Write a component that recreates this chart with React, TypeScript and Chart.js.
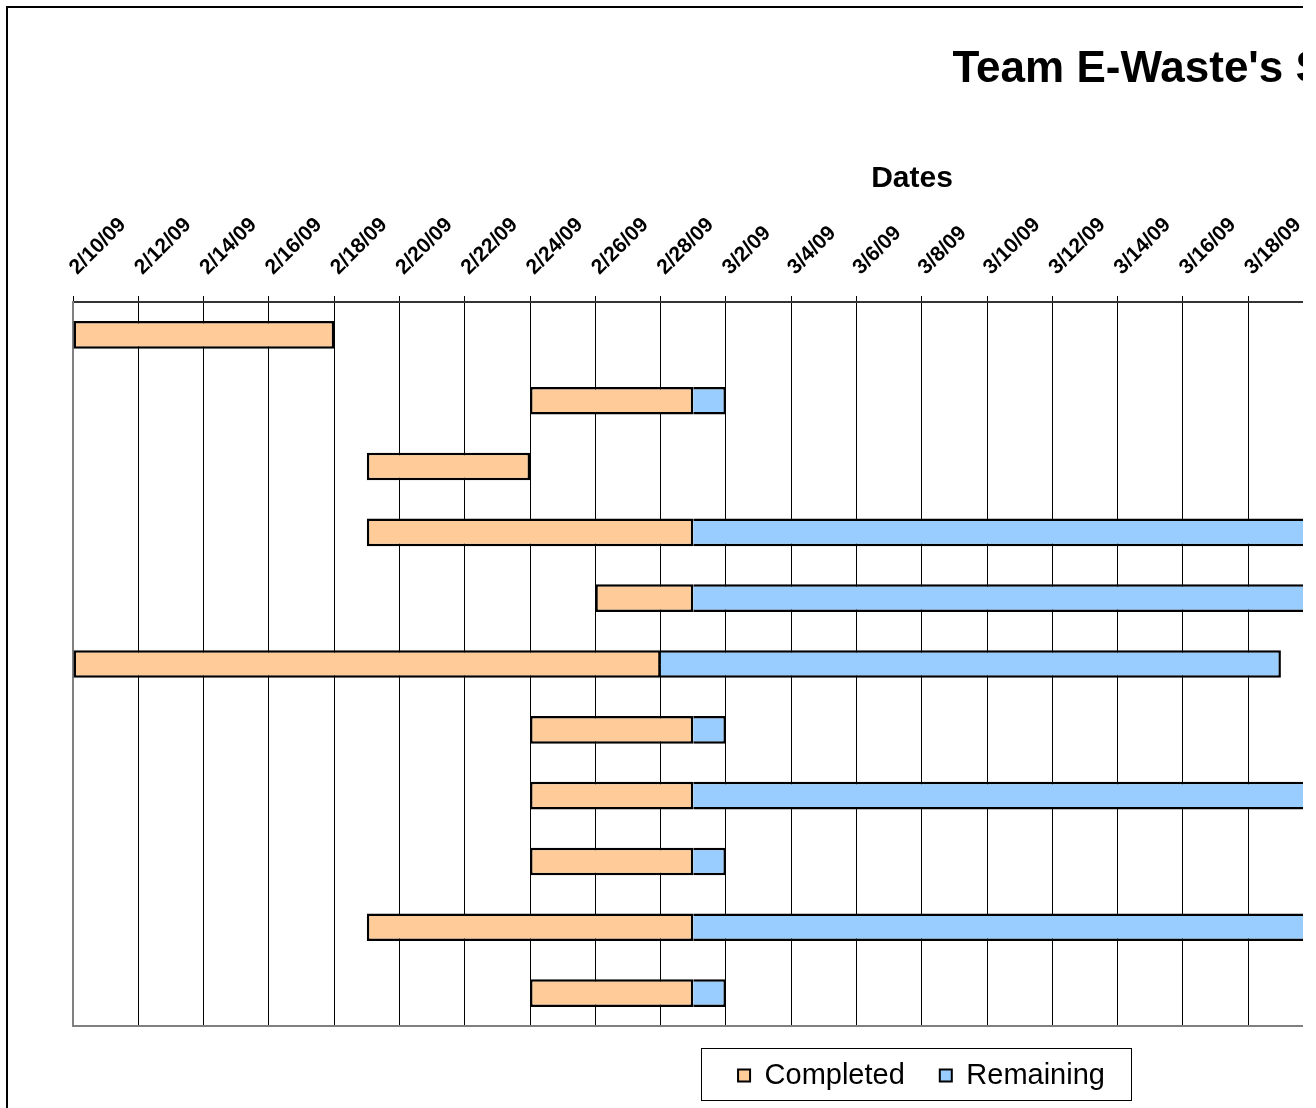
import React, { useEffect, useRef } from 'react';
import { Chart, registerables } from 'chart.js';

Chart.register(...registerables);

const FONT = "'Liberation Sans', Arial, sans-serif";

const chartTitle = "Team E-Waste's Schedule";
const axisTitle = 'Dates';
const seriesNames = ['Completed', 'Remaining'];
const seriesColors = ['#FFCC99', '#99CCFF'];

const tasks = ['Task 1', 'Task 2', 'Task 3', 'Task 4', 'Task 5', 'Task 6', 'Task 7', 'Task 8', 'Task 9', 'Task 10', 'Task 11'];
const startDates = ['2/10/09', '2/24/09', '2/19/09', '2/19/09', '2/26/09', '2/10/09', '2/24/09', '2/24/09', '2/24/09', '2/19/09', '2/24/09'];
const completedThrough = ['2/18/09', '3/1/09', '2/24/09', '3/1/09', '3/1/09', '2/28/09', '3/1/09', '3/1/09', '3/1/09', '3/1/09', '3/1/09'];
const finishDates = ['2/18/09', '3/2/09', '2/24/09', '3/27/09', '3/27/09', '3/19/09', '3/2/09', '3/27/09', '3/2/09', '3/27/09', '3/2/09'];

const axisStartDate = '2/10/09';
const axisSpanDays = 51.4;
const tickStepDays = 2;

function toUTC(s: string) {
  const [m, d, y] = s.split('/').map(Number);
  return Date.UTC(2000 + y, m - 1, d);
}
const baseUTC = toUTC(axisStartDate);
const dayIndex = (s: string) => (toUTC(s) - baseUTC) / 86400000;
const fmtDay = (v: number) => {
  const d = new Date(baseUTC + v * 86400000);
  return `${d.getUTCMonth() + 1}/${d.getUTCDate()}/${String(d.getUTCFullYear()).slice(2)}`;
};

const completedData = tasks.map((_, i) => [dayIndex(startDates[i]), dayIndex(completedThrough[i])]);
const remainingData = tasks.map((_, i) =>
  dayIndex(finishDates[i]) > dayIndex(completedThrough[i]) ? [dayIndex(completedThrough[i]), dayIndex(finishDates[i])] : null
);

const CANVAS_W = 1830;
const CANVAS_H = 1100;

const titlePlugin = {
  id: 'offsetTitle',
  afterDraw(chart: any) {
    const ctx = chart.ctx;
    ctx.save();
    ctx.font = `bold 44px ${FONT}`;
    ctx.fillStyle = '#000';
    ctx.textAlign = 'left';
    ctx.textBaseline = 'alphabetic';
    ctx.fillText(chartTitle, 944.5, 74);
    ctx.restore();
  },
};

const legendFramePlugin = {
  id: 'legendFrame',
  afterDraw(chart: any) {
    const boxes = chart.legend?.legendHitBoxes;
    if (!boxes || !boxes.length) return;
    const first = boxes[0];
    const last = boxes[boxes.length - 1];
    const cy = first.top + first.height / 2;
    const x1 = Math.round(first.left - 37) + 0.5;
    const x2 = Math.round(last.left + last.width + 26) + 0.5;
    const y1 = Math.round(cy - 28) + 0.5;
    const y2 = Math.round(cy + 24) + 0.5;
    const ctx = chart.ctx;
    ctx.save();
    ctx.strokeStyle = '#000';
    ctx.lineWidth = 1;
    ctx.strokeRect(x1, y1, x2 - x1, y2 - y1);
    ctx.restore();
  },
};

export default function App() {
  const ref = useRef<HTMLCanvasElement>(null);

  useEffect(() => {
    if (!ref.current) return;
    const chart = new Chart(ref.current, {
      type: 'bar',
      data: {
        labels: tasks,
        datasets: [
          {
            label: seriesNames[0],
            data: completedData as any,
            backgroundColor: seriesColors[0],
            borderColor: '#000',
            borderWidth: 2.5,
            borderSkipped: false,
            barPercentage: 0.42,
            categoryPercentage: 1,
          },
          {
            label: seriesNames[1],
            data: remainingData as any,
            backgroundColor: seriesColors[1],
            borderColor: '#000',
            borderWidth: 2.5,
            borderSkipped: 'start',
            barPercentage: 0.42,
            categoryPercentage: 1,
          },
        ],
      },
      options: {
        indexAxis: 'y',
        responsive: false,
        animation: false,
        layout: { padding: { left: 65, right: 68, top: 150, bottom: 8 } },
        font: { family: FONT },
        scales: {
          x: {
            type: 'linear',
            position: 'top',
            min: 0,
            max: axisSpanDays,
            afterFit: (s: any) => {
              s.height = 144;
            },
            ticks: {
              stepSize: tickStepDays,
              includeBounds: false,
              autoSkip: false,
              minRotation: 45,
              maxRotation: 45,
              padding: 16,
              labelOffset: 18,
              color: '#000',
              font: { family: FONT, size: 21, weight: 'bold' },
              callback: (v: any) => fmtDay(Number(v)),
            },
            grid: { color: '#000', lineWidth: 1, drawTicks: true, tickLength: 6 },
            border: { display: true, color: '#333', width: 2 },
            title: {
              display: true,
              text: axisTitle,
              color: '#000',
              padding: { top: 3, bottom: 0 },
              font: { family: FONT, size: 30, weight: 'bold' },
            },
          },
          x2: {
            type: 'linear',
            position: 'bottom',
            min: 0,
            max: axisSpanDays,
            afterFit: (s: any) => {
              s.height = 0;
            },
            ticks: { display: false },
            grid: { display: false, drawTicks: false },
            border: { display: true, color: '#808080', width: 2 },
          },
          y: {
            type: 'category',
            stacked: true,
            afterFit: (s: any) => {
              s.width = 0;
            },
            ticks: { display: false },
            grid: { display: false, drawTicks: false },
            border: { display: true, color: '#808080', width: 2 },
          },
          yr: {
            type: 'category',
            position: 'right',
            afterFit: (s: any) => {
              s.width = 19;
            },
            ticks: { display: false },
            grid: { display: false, drawTicks: false },
            border: { display: false },
          },
        },
        plugins: {
          title: { display: false },
          tooltip: { enabled: false },
          legend: {
            display: true,
            position: 'bottom',
            labels: {
              color: '#000',
              boxWidth: 12,
              boxHeight: 12,
              padding: 35,
              font: { family: FONT, size: 29 },
              generateLabels: (c: any) => {
                const items = (Chart.defaults.plugins.legend.labels as any).generateLabels(c);
                items.forEach((it: any) => {
                  it.lineWidth = 2;
                });
                return items;
              },
            },
          },
        },
      },
      plugins: [titlePlugin, legendFramePlugin],
    } as any);
    return () => chart.destroy();
  }, []);

  return (
    <div
      style={{
        position: 'fixed',
        left: 6,
        top: 6,
        width: 1297,
        height: 1102,
        boxSizing: 'border-box',
        borderTop: '2px solid #000',
        borderLeft: '2px solid #000',
        overflow: 'hidden',
        background: '#fff',
      }}
    >
      <canvas ref={ref} width={CANVAS_W} height={CANVAS_H} style={{ display: 'block', position: 'absolute', left: 0, top: 0 }} />
    </div>
  );
}
